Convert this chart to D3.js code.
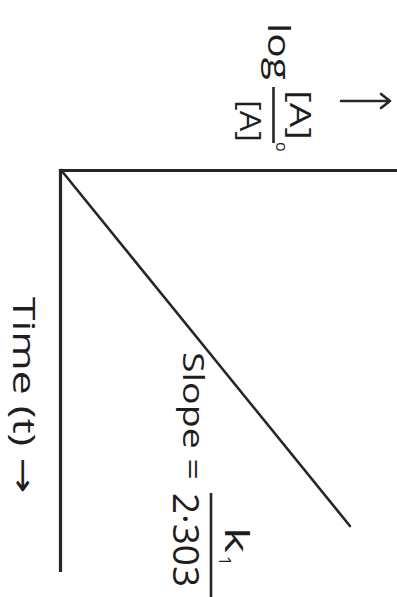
<!DOCTYPE html>
<html>
<head>
<meta charset="utf-8">
<script src="https://cdn.jsdelivr.net/npm/d3@7"></script>
<style>
  html, body { margin: 0; padding: 0; background: #fff; }
  svg { display: block; }
  text { font-family: "Open Sans", "DejaVu Sans", sans-serif; fill: #1e1e1e; }
</style>
</head>
<body>
<script>
// ---- data (first-order reaction: log([A]0/[A]) vs time) ----
const timeValues = [0, 8.9];
const logRatioValues = [0, 8.6];
const xDomain = [0, 10];
const yDomain = [0, 10];
const xAxisLabel = "Time (t) →";
const yAxisLabelLog = "log";
const yFracNumerator = "[A]";
const yFracNumeratorSub = "o";
const yFracDenominator = "[A]";
const slopeLabel = "Slope =";
const slopeNumerator = "k";
const slopeNumeratorSub = "1";
const slopeDenominator = "2·303";

const W = 397, H = 597;
const svg = d3.select("body").append("svg").attr("width", W).attr("height", H);
svg.append("rect").attr("width", W).attr("height", H).attr("fill", "#fff");

// whole chart is drawn in its upright frame, then turned 90° clockwise
const g = svg.append("g").attr("transform", `translate(${W},0) rotate(90)`);

const x = d3.scaleLinear().domain(xDomain).range([170, 570]);
const y = d3.scaleLinear().domain(yDomain).range([336, 0]);

const ink = "#262626";

// axes (domain lines only)
const xAxis = g.append("g").attr("transform", `translate(0,${y(0)})`)
  .call(d3.axisBottom(x).tickValues([]).tickSizeOuter(0));
const yAxis = g.append("g").attr("transform", `translate(${x(0)},0)`)
  .call(d3.axisLeft(y).tickValues([]).tickSizeOuter(0));
[xAxis, yAxis].forEach(a => a.select(".domain")
  .attr("stroke", ink).attr("stroke-width", 3.2).attr("stroke-linecap", "square"));

// data line
const pts = timeValues.map((t, i) => [t, logRatioValues[i]]);
g.append("path")
  .datum(pts)
  .attr("fill", "none")
  .attr("stroke", ink)
  .attr("stroke-width", 2.6)
  .attr("stroke-linecap", "round")
  .attr("d", d3.line().x(d => x(d[0])).y(d => y(d[1])));

// x-axis label
g.append("text")
  .attr("x", 297).attr("y", 384)
  .attr("font-size", 31)
  .attr("textLength", 196).attr("lengthAdjust", "spacingAndGlyphs")
  .text(xAxisLabel);

// y-axis label: log [A]o/[A]
g.append("text").attr("x", 23).attr("y", 129).attr("font-size", 31)
  .attr("textLength", 57).attr("lengthAdjust", "spacingAndGlyphs")
  .text(yAxisLabelLog);
g.append("text").attr("x", 90).attr("y", 107).attr("font-size", 29)
  .attr("textLength", 50).attr("lengthAdjust", "spacingAndGlyphs")
  .text(yFracNumerator);
g.append("text").attr("x", 142).attr("y", 121).attr("font-size", 16)
  .text(yFracNumeratorSub);
g.append("line").attr("x1", 87).attr("x2", 143).attr("y1", 123.5).attr("y2", 123.5)
  .attr("stroke", ink).attr("stroke-width", 2.6);
g.append("text").attr("x", 100).attr("y", 157).attr("font-size", 29)
  .attr("textLength", 42).attr("lengthAdjust", "spacingAndGlyphs")
  .text(yFracDenominator);

// up arrow above the y label
const ax = 101, ay0 = 56, ay1 = 7;
g.append("path")
  .attr("d", `M${ax},${ay0} L${ax},${ay1} M${ax - 7},${ay1 + 9} L${ax},${ay1} L${ax + 7},${ay1 + 9}`)
  .attr("fill", "none").attr("stroke", ink).attr("stroke-width", 2.6)
  .attr("stroke-linecap", "round").attr("stroke-linejoin", "round");

// slope annotation
g.append("text").attr("x", 352).attr("y", 214).attr("font-size", 29)
  .attr("textLength", 128).attr("lengthAdjust", "spacingAndGlyphs")
  .text(slopeLabel);
g.append("text").attr("x", 527).attr("y", 172).attr("font-size", 33)
  .attr("textLength", 26).attr("lengthAdjust", "spacingAndGlyphs")
  .text(slopeNumerator);
g.append("text").attr("x", 556).attr("y", 178).attr("font-size", 17)
  .text(slopeNumeratorSub);
g.append("line").attr("x1", 493).attr("x2", 597).attr("y1", 186).attr("y2", 186)
  .attr("stroke", ink).attr("stroke-width", 2.6);
g.append("text").attr("x", 493).attr("y", 224).attr("font-size", 36)
  .attr("textLength", 94).attr("lengthAdjust", "spacingAndGlyphs")
  .text(slopeDenominator);
</script>
</body>
</html>
